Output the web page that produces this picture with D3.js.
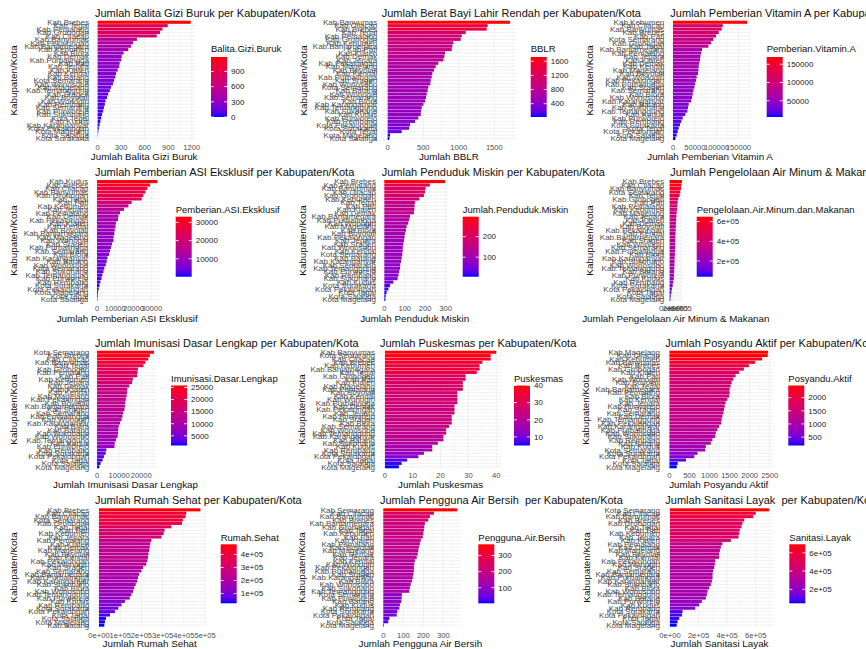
<!DOCTYPE html>
<html><head><meta charset="utf-8">
<script src="https://cdn.jsdelivr.net/npm/d3@7"></script>
<style>
body{margin:0;background:#fff}
svg{display:block;font-family:"Liberation Sans",Arial,Helvetica,sans-serif}
</style>
</head><body>
<svg id="c" width="866" height="649"></svg>
<script>
// ---------- DATA ----------
const n1 = "Kab.Brebes,Kab.Tegal,Kab.Pemalang,Kab.Grobogan,Kab.Cilacap,Kab.Banyumas,Kab.Pekalongan,Kab.Banjarnegara,Kab.Kebumen,Kab.Blora,Kab.Demak,Kab.Purbalingga,Kab.Pati,Kab.Jepara,Kab.Klaten,Kab.Kendal,Kab.Batang,Kota Semarang,Kab.Wonosobo,Kab.Magelang,Kab.Temanggung,Kab.Sragen,Kab.Boyolali,Kab.Wonogiri,Kab.Rembang,Kab.Semarang,Kab.Purworejo,Kab.Sukoharjo,Kota Tegal,Kab.Kudus,Kab.Karanganyar,Kota Pekalongan,Kota Magelang,Kota Salatiga,Kota Surakarta".split(",");
const v1 = [1185, 893, 826, 795, 752, 500, 450, 425, 390, 330, 306, 300, 280, 275, 255, 235, 225, 210, 195, 170, 155, 135, 120, 100, 92, 80, 70, 55, 45, 35, 25, 15, 8, 3, 0];

const n2 = "Kab.Banyumas,Kab.Cilacap,Kab.Brebes,Kab.Tegal,Kab.Pemalang,Kab.Grobogan,Kab.Kebumen,Kab.Banjarnegara,Kab.Pati,Kab.Klaten,Kab.Demak,Kab.Jepara,Kab.Pekalongan,Kab.Magelang,Kab.Boyolali,Kab.Kendal,Kab.Purbalingga,Kab.Sragen,Kab.Wonosobo,Kota Semarang,Kab.Batang,Kab.Wonogiri,Kab.Semarang,Kab.Blora,Kab.Karanganyar,Kab.Temanggung,Kab.Sukoharjo,Kab.Kudus,Kab.Purworejo,Kab.Rembang,Kota Pekalongan,Kota Surakarta,Kota Tegal,Kota Magelang,Kota Salatiga".split(",");
const v2 = [1720, 1406, 1392, 1097, 1041, 1027, 923, 909, 900, 806, 797, 783, 712, 675, 652, 628, 619, 605, 600, 572, 562, 548, 539, 525, 502, 478, 469, 464, 431, 384, 314, 300, 197, 33, 23];

const n3 = "Kab.Kebumen,Kab.Cilacap,Kab.Banyumas,Kab.Brebes,Kab.Pati,Kota Semarang,Kab.Grobogan,Kab.Tegal,Kab.Banjarnegara,Kab.Pemalang,Kab.Jepara,Kab.Klaten,Kab.Demak,Kab.Kendal,Kab.Magelang,Kab.Boyolali,Kab.Wonogiri,Kab.Pekalongan,Kab.Purbalingga,Kab.Sragen,Kab.Semarang,Kab.Blora,Kab.Wonosobo,Kab.Karanganyar,Kab.Batang,Kab.Sukoharjo,Kab.Temanggung,Kab.Kudus,Kab.Purworejo,Kab.Rembang,Kota Surakarta,Kota Tegal,Kota Pekalongan,Kota Salatiga,Kota Magelang".split(",");
const v3 = [169900, 114000, 111700, 104800, 98700, 92600, 87200, 81100, 66600, 64300, 62800, 62000, 60500, 58900, 58200, 57400, 54300, 52800, 50500, 49000, 46700, 45200, 43600, 41300, 36000, 34400, 32900, 28300, 22200, 19100, 16100, 13000, 10700, 8400, 5400];

const n4 = "Kab.Kudus,Kab.Brebes,Kab.Cilacap,Kab.Banyumas,Kab.Grobogan,Kab.Tegal,Kab.Pati,Kab.Kebumen,Kab.Jepara,Kab.Pemalang,Kab.Demak,Kab.Pekalongan,Kab.Klaten,Kab.Kendal,Kab.Boyolali,Kab.Banjarnegara,Kab.Magelang,Kab.Wonogiri,Kab.Sragen,Kab.Purbalingga,Kab.Semarang,Kab.Blora,Kab.Karanganyar,Kab.Batang,Kab.Wonosobo,Kota Semarang,Kab.Sukoharjo,Kab.Temanggung,Kab.Purworejo,Kab.Rembang,Kota Surakarta,Kota Pekalongan,Kota Magelang,Kota Tegal,Kota Salatiga".split(",");
const v4 = [33100, 29100, 27600, 26500, 25400, 24500, 19000, 17200, 14800, 12600, 11700, 11500, 10400, 10100, 9700, 9500, 9100, 9000, 8200, 7700, 7100, 6600, 5700, 5300, 4800, 4000, 3500, 2900, 2400, 1800, 1300, 900, 500, 400, 200];

const n5 = "Kab.Brebes,Kab.Pemalang,Kab.Banyumas,Kab.Cilacap,Kab.Grobogan,Kab.Kebumen,Kab.Tegal,Kab.Pati,Kab.Klaten,Kab.Demak,Kab.Banjarnegara,Kab.Purbalingga,Kab.Wonogiri,Kab.Magelang,Kab.Blora,Kab.Boyolali,Kab.Pekalongan,Kab.Jepara,Kab.Sragen,Kab.Wonosobo,Kab.Kendal,Kota Semarang,Kab.Batang,Kab.Karanganyar,Kab.Semarang,Kab.Temanggung,Kab.Purworejo,Kab.Rembang,Kab.Sukoharjo,Kab.Kudus,Kota Surakarta,Kota Pekalongan,Kota Tegal,Kota Salatiga,Kota Magelang".split(",");
const v5 = [297, 223, 202, 199, 194, 171, 150, 148, 147, 145, 126, 122, 117, 109, 106, 101, 99, 96, 93, 90, 90, 88, 85, 82, 78, 77, 73, 69, 65, 44, 28, 20, 11, 7, 5];

const n6 = "Kab.Brebes,Kab.Cilacap,Kab.Banyumas,Kota Semarang,Kab.Tegal,Kab.Grobogan,Kab.Pati,Kab.Pemalang,Kab.Kebumen,Kab.Magelang,Kab.Jepara,Kab.Klaten,Kab.Demak,Kab.Boyolali,Kab.Pekalongan,Kab.Kendal,Kab.Banjarnegara,Kab.Sragen,Kab.Wonogiri,Kab.Semarang,Kab.Purbalingga,Kab.Blora,Kab.Karanganyar,Kab.Sukoharjo,Kab.Wonosobo,Kab.Temanggung,Kab.Batang,Kab.Purworejo,Kab.Kudus,Kab.Rembang,Kota Surakarta,Kota Pekalongan,Kota Tegal,Kota Salatiga,Kota Magelang".split(",");
const v6 = [650000, 615000, 597000, 560000, 525000, 455000, 420000, 405000, 390000, 370000, 355000, 345000, 335000, 325000, 318000, 310000, 302000, 295000, 290000, 285000, 280000, 275000, 268000, 262000, 255000, 248000, 240000, 230000, 215000, 190000, 160000, 120000, 90000, 60000, 40000];

const n7 = "Kota Semarang,Kab.Brebes,Kab.Cilacap,Kab.Banyumas,Kab.Tegal,Kab.Grobogan,Kab.Pemalang,Kab.Pati,Kab.Kebumen,Kab.Jepara,Kab.Demak,Kab.Klaten,Kab.Kendal,Kab.Magelang,Kab.Pekalongan,Kab.Boyolali,Kab.Banjarnegara,Kab.Sragen,Kab.Semarang,Kab.Purbalingga,Kab.Wonogiri,Kab.Karanganyar,Kab.Blora,Kab.Batang,Kab.Sukoharjo,Kab.Wonosobo,Kab.Temanggung,Kab.Kudus,Kab.Purworejo,Kab.Rembang,Kota Surakarta,Kota Pekalongan,Kota Tegal,Kota Salatiga,Kota Magelang".split(",");
const v7 = [25800, 23900, 23200, 21800, 21000, 18500, 18300, 18100, 16200, 15900, 14500, 13700, 13600, 13400, 13000, 12700, 12600, 12400, 11800, 11500, 11100, 10400, 9800, 9600, 9500, 9300, 8600, 8000, 7900, 4200, 3900, 3100, 2500, 1600, 1000];

const n8 = "Kab.Banyumas,Kota Semarang,Kab.Cilacap,Kab.Brebes,Kab.Kebumen,Kab.Banjarnegara,Kab.Tegal,Kab.Grobogan,Kab.Pati,Kab.Klaten,Kab.Magelang,Kab.Pemalang,Kab.Boyolali,Kab.Kendal,Kab.Wonogiri,Kab.Purbalingga,Kab.Demak,Kab.Pekalongan,Kab.Jepara,Kab.Purworejo,Kab.Sragen,Kab.Blora,Kab.Semarang,Kab.Wonosobo,Kab.Temanggung,Kab.Karanganyar,Kab.Batang,Kab.Sukoharjo,Kab.Kudus,Kab.Rembang,Kota Surakarta,Kota Pekalongan,Kota Tegal,Kota Salatiga,Kota Magelang".split(",");
const v8 = [40, 38, 38, 35, 34, 34, 33, 29, 29, 28, 28, 28, 26, 26, 26, 26, 25, 25, 25, 24, 24, 24, 23, 22, 22, 21, 21, 19, 17, 17, 14, 12, 8, 6, 5];

const n9 = "Kab.Magelang,Kab.Cilacap,Kab.Kebumen,Kab.Banyumas,Kab.Brebes,Kab.Grobogan,Kab.Klaten,Kab.Pati,Kab.Wonogiri,Kab.Boyolali,Kab.Tegal,Kab.Banjarnegara,Kab.Pemalang,Kab.Blora,Kab.Kendal,Kab.Jepara,Kab.Purworejo,Kab.Sragen,Kab.Semarang,Kab.Demak,Kab.Temanggung,Kab.Pekalongan,Kab.Karanganyar,Kab.Purbalingga,Kab.Wonosobo,Kab.Sukoharjo,Kab.Rembang,Kab.Batang,Kab.Kudus,Kota Semarang,Kota Surakarta,Kota Pekalongan,Kota Tegal,Kota Salatiga,Kota Magelang".split(",");
const v9 = [2459, 2450, 2310, 2130, 1980, 1856, 1733, 1650, 1592, 1551, 1526, 1500, 1500, 1485, 1444, 1400, 1378, 1361, 1345, 1320, 1300, 1295, 1238, 1196, 1155, 1140, 1072, 1030, 907, 890, 700, 620, 412, 206, 182];

const n10 = "Kab.Brebes,Kab.Cilacap,Kab.Banyumas,Kota Semarang,Kab.Grobogan,Kab.Tegal,Kab.Pati,Kab.Kebumen,Kab.Jepara,Kab.Pemalang,Kab.Klaten,Kab.Demak,Kab.Magelang,Kab.Boyolali,Kab.Kendal,Kab.Pekalongan,Kab.Wonogiri,Kab.Sragen,Kab.Semarang,Kab.Banjarnegara,Kab.Purbalingga,Kab.Karanganyar,Kab.Sukoharjo,Kab.Blora,Kab.Wonosobo,Kab.Temanggung,Kab.Purworejo,Kab.Kudus,Kab.Rembang,Kota Surakarta,Kota Pekalongan,Kota Tegal,Kota Salatiga,Kota Magelang,Kab.Batang".split(",");
const v10 = [478000, 411000, 408000, 395000, 391000, 341000, 309000, 305000, 294000, 247000, 242000, 239000, 236000, 233000, 231000, 228000, 223000, 208000, 200000, 189000, 184000, 180000, 173000, 166000, 161000, 153000, 145000, 122000, 106000, 91000, 75000, 52000, 33000, 28000, 25000];

const n11 = "Kab.Semarang,Kab.Cilacap,Kab.Banyumas,Kab.Brebes,Kab.Banjarnegara,Kab.Grobogan,Kab.Tegal,Kab.Kebumen,Kab.Pati,Kab.Klaten,Kab.Pemalang,Kab.Boyolali,Kab.Magelang,Kab.Demak,Kab.Jepara,Kab.Kendal,Kab.Wonogiri,Kab.Pekalongan,Kab.Purbalingga,Kab.Sragen,Kab.Karanganyar,Kab.Blora,Kab.Wonosobo,Kab.Sukoharjo,Kab.Temanggung,Kota Semarang,Kab.Purworejo,Kab.Batang,Kab.Kudus,Kab.Rembang,Kota Surakarta,Kota Pekalongan,Kota Tegal,Kota Salatiga,Kota Magelang".split(",");
const v11 = [370, 253, 233, 225, 208, 205, 203, 200, 197, 187, 183, 178, 175, 172, 167, 158, 155, 153, 153, 150, 147, 143, 137, 133, 130, 93, 92, 90, 83, 80, 70, 67, 30, 25, 3];

const n12 = "Kota Semarang,Kab.Cilacap,Kab.Banyumas,Kab.Brebes,Kab.Grobogan,Kab.Tegal,Kab.Pati,Kab.Kebumen,Kab.Jepara,Kab.Klaten,Kab.Pemalang,Kab.Demak,Kab.Magelang,Kab.Boyolali,Kab.Kendal,Kab.Pekalongan,Kab.Wonogiri,Kab.Sragen,Kab.Semarang,Kab.Banjarnegara,Kab.Purbalingga,Kab.Karanganyar,Kab.Sukoharjo,Kab.Blora,Kab.Wonosobo,Kab.Temanggung,Kab.Batang,Kab.Purworejo,Kab.Kudus,Kab.Rembang,Kota Surakarta,Kota Pekalongan,Kota Tegal,Kota Salatiga,Kota Magelang".split(",");
const v12 = [693000, 600000, 581000, 519000, 507000, 500000, 488000, 484000, 479000, 426000, 367000, 356000, 349000, 344000, 344000, 316000, 314000, 309000, 302000, 298000, 298000, 293000, 286000, 274000, 263000, 258000, 251000, 223000, 205000, 177000, 88000, 84000, 65000, 53000, 47000];

const titles = [
  "Jumlah Balita Gizi Buruk per Kabupaten/Kota",
  "Jumlah Berat Bayi Lahir Rendah per Kabupaten/Kota",
  "Jumlah Pemberian Vitamin A per Kabupaten/Kota",
  "Jumlah Pemberian ASI Eksklusif per Kabupaten/Kota",
  "Jumlah Penduduk Miskin per Kabupaten/Kota",
  "Jumlah Pengelolaan Air Minum & Makanan per Kabupaten/Kota",
  "Jumlah Imunisasi Dasar Lengkap per Kabupaten/Kota",
  "Jumlah Puskesmas per Kabupaten/Kota",
  "Jumlah Posyandu Aktif per Kabupaten/Kota",
  "Jumlah Rumah Sehat per Kabupaten/Kota",
  "Jumlah Pengguna Air Bersih  per Kabupaten/Kota",
  "Jumlah Sanitasi Layak  per Kabupaten/Kota"
];
const xTitles = [
  "Jumlah Balita Gizi Buruk", "Jumlah BBLR", "Jumlah Pemberian Vitamin A",
  "Jumlah Pemberian ASI Eksklusif", "Jumlah Penduduk Miskin", "Jumlah Pengelolaan Air Minum & Makanan",
  "Jumlah Imunisasi Dasar Lengkap", "Jumlah Puskesmas", "Jumlah Posyandu Aktif",
  "Jumlah Rumah Sehat", "Jumlah Pengguna Air Bersih", "Jumlah Sanitasi Layak"
];
const legendTitles = [
  "Balita.Gizi.Buruk", "BBLR", "Pemberian.Vitamin.A",
  "Pemberian.ASI.Eksklusif", "Jumlah.Penduduk.Miskin", "Pengelolaan.Air.Minum.dan.Makanan",
  "Imunisasi.Dasar.Lengkap", "Puskesmas", "Posyandu.Aktif",
  "Rumah.Sehat", "Pengguna.Air.Bersih", "Sanitasi.Layak"
];
const yTitle = "Kabupaten/Kota";
const xTicks = [
  [0, 300, 600, 900, 1200], [0, 500, 1000, 1500], [0, 50000, 100000, 150000],
  [0, 10000, 20000, 30000], [0, 100, 200, 300], [0, 200000, 400000, 600000],
  [0, 10000, 20000], [0, 10, 20, 30, 40], [0, 500, 1000, 1500, 2000, 2500],
  [0, 100000, 200000, 300000, 400000, 500000], [0, 100, 200, 300], [0, 200000, 400000, 600000]
];
const legendTicks = [
  [0, 300, 600, 900], [400, 800, 1200, 1600], [50000, 100000, 150000],
  [10000, 20000, 30000], [100, 200], [200000, 400000, 600000],
  [5000, 10000, 15000, 20000, 25000], [10, 20, 30, 40], [500, 1000, 1500, 2000],
  [100000, 200000, 300000, 400000], [100, 200, 300], [200000, 400000, 600000]
];
const scientific = [false, false, false, false, false, true, false, false, false, true, false, true];

const names = [n1, n2, n3, n4, n5, n6, n7, n8, n9, n10, n11, n12];
const values = [v1, v2, v3, v4, v5, v6, v7, v8, v9, v10, v11, v12];

// ---------- LAYOUT ----------
const rows = [
  {ty: 17, pt: 20.2, pb: 140.5, tky: 149.5, xty: 159.5, gty: 52.3, cbt: 57, cbb: 117},
  {ty: 176, pt: 179.5, pb: 301.5, tky: 311, xty: 321.8, gty: 212.6, cbt: 216.7, cbb: 276.7},
  {ty: 347, pt: 350.2, pb: 468.8, tky: 478.3, xty: 487.5, gty: 381.6, cbt: 385.5, cbb: 445.5},
  {ty: 504.4, pt: 507.8, pb: 627.2, tky: 638.3, xty: 646.8, gty: 540.6, cbt: 544.3, cbb: 603.3}
];
const cols = [
  {pl: 93, pr: 195.3, lx: 89, ytx: 13.3, tx: 95, gx: 211},
  {pl: 381.6, pr: 516.1, lx: 377.3, ytx: 303, tx: 381.7, gx: 530.7},
  {pl: 669.3, pr: 750.8, lx: 664.3, ytx: 589.3, tx: 670.3, gx: 766.7},
  {pl: 94, pr: 160.4, lx: 88.3, ytx: 13.3, tx: 95, gx: 175.7},
  {pl: 381.3, pr: 448, lx: 376, ytx: 302.7, tx: 381.7, gx: 462.7},
  {pl: 669, pr: 682.6, lx: 664.3, ytx: 589.3, tx: 670.3, gx: 696.7},
  {pl: 94.2, pr: 156.9, lx: 89.3, ytx: 13.3, tx: 95, gx: 171},
  {pl: 379.4, pr: 501.8, lx: 375, ytx: 301.7, tx: 380, gx: 514},
  {pl: 664.5, pr: 773, lx: 660, ytx: 585.3, tx: 665.3, gx: 788.3},
  {pl: 93.9, pr: 205.5, lx: 89.3, ytx: 13.3, tx: 95, gx: 220.7},
  {pl: 379.6, pr: 461, lx: 374, ytx: 301.7, tx: 380, gx: 478.3},
  {pl: 665, pr: 774, lx: 660, ytx: 586, tx: 665.3, gx: 789.3}
];

function sciFmt(v) {
  if (v === 0) return "0e+00";
  const e = Math.floor(Math.log10(Math.abs(v)));
  const m = v / Math.pow(10, e);
  return m.toFixed(0) + "e+" + String(e).padStart(2, "0");
}

const svg = d3.select("#c");
const defs = svg.append("defs");
const FONT_T = 11, FONT_AX = 9.8, FONT_YL = 8, FONT_TK = 7.6, FONT_LT = 9.5, FONT_LL = 8;
const GRID = "#ebebeb";

names.forEach((nm, i) => {
  const R = rows[Math.floor(i / 3)], C = cols[i], vals = values[i];
  const L = Object.assign({}, R, C);
  const g = svg.append("g");
  const vmax = d3.max(vals), vmin = d3.min(vals);
  const lo = Math.min(0, vmin), hi = vmax;
  const pad = (hi - lo) * 0.05;
  const x = d3.scaleLinear().domain([lo - pad, hi + pad]).range([L.pl, L.pr]);
  const y = d3.scaleBand().domain(nm).range([L.pt, L.pb]).paddingInner(0.1).paddingOuter(0.15);
  const col = d3.scaleLinear().domain([vmin, vmax]).range(["blue", "red"]).interpolate(d3.interpolateLab);
  const fmt = scientific[i] ? sciFmt : (v => String(v));

  // minor vertical grid
  const tk = xTicks[i];
  const minors = [];
  for (let k = 0; k < tk.length - 1; k++) minors.push((tk[k] + tk[k + 1]) / 2);
  const st = tk[1] - tk[0];
  if (tk[tk.length - 1] + st / 2 <= hi + pad) minors.push(tk[tk.length - 1] + st / 2);
  g.selectAll(".mn").data(minors).enter().append("line")
    .attr("x1", d => x(d)).attr("x2", d => x(d)).attr("y1", L.pt).attr("y2", L.pb)
    .attr("stroke", GRID).attr("stroke-width", 0.35);
  // major vertical grid
  g.selectAll(".mj").data(tk).enter().append("line")
    .attr("x1", d => x(d)).attr("x2", d => x(d)).attr("y1", L.pt).attr("y2", L.pb)
    .attr("stroke", GRID).attr("stroke-width", 0.7);
  // horizontal grid
  g.selectAll(".hg").data(nm).enter().append("line")
    .attr("x1", L.pl).attr("x2", L.pr)
    .attr("y1", d => y(d) + y.bandwidth() / 2).attr("y2", d => y(d) + y.bandwidth() / 2)
    .attr("stroke", GRID).attr("stroke-width", 0.7);

  // bars
  g.selectAll(".bar").data(nm.map((n, k) => ({n, v: vals[k]}))).enter().append("rect")
    .attr("x", d => Math.min(x(0), x(d.v)))
    .attr("width", d => Math.abs(x(d.v) - x(0)))
    .attr("y", d => y(d.n)).attr("height", y.bandwidth())
    .attr("fill", d => col(d.v));

  // y labels
  g.selectAll(".yl").data(nm).enter().append("text")
    .attr("x", L.lx).attr("y", d => y(d) + y.bandwidth() / 2).attr("dy", "0.35em")
    .attr("text-anchor", "end").attr("font-size", FONT_YL).attr("fill", "#4d4d4d")
    .text(d => d);

  // x tick labels
  g.selectAll(".xt").data(tk).enter().append("text")
    .attr("x", d => x(d)).attr("y", L.tky)
    .attr("text-anchor", "middle").attr("font-size", FONT_TK).attr("fill", "#4d4d4d")
    .text(d => fmt(d));

  // axis titles
  g.append("text").attr("x", (L.pl + L.pr) / 2).attr("y", L.xty)
    .attr("text-anchor", "middle").attr("font-size", FONT_AX).attr("fill", "#111")
    .text(xTitles[i]);
  const cy = (L.pt + L.pb) / 2;
  g.append("text").attr("transform", `translate(${L.ytx + 3.5},${cy}) rotate(-90)`)
    .attr("text-anchor", "middle").attr("font-size", FONT_AX).attr("fill", "#111")
    .text(yTitle);

  // plot title
  g.append("text").attr("x", L.tx).attr("y", L.ty)
    .attr("font-size", FONT_T).attr("fill", "#111").style("white-space", "pre")
    .text(titles[i]);

  // legend
  const gid = "grad" + i;
  const grad = defs.append("linearGradient").attr("id", gid)
    .attr("x1", 0).attr("y1", 1).attr("x2", 0).attr("y2", 0);
  d3.range(0, 21).forEach(s => {
    const t = s / 20;
    grad.append("stop").attr("offset", t).attr("stop-color", col(vmin + t * (vmax - vmin)));
  });
  const cw = 16;
  g.append("rect").attr("x", L.gx).attr("y", L.cbt).attr("width", cw).attr("height", L.cbb - L.cbt)
    .attr("fill", `url(#${gid})`);
  const ly = d3.scaleLinear().domain([vmin, vmax]).range([L.cbb, L.cbt]);
  const lt = legendTicks[i];
  g.selectAll(".lt1").data(lt).enter().append("line")
    .attr("x1", L.gx).attr("x2", L.gx + 3).attr("y1", d => ly(d)).attr("y2", d => ly(d))
    .attr("stroke", "#fff").attr("stroke-width", 0.8);
  g.selectAll(".lt2").data(lt).enter().append("line")
    .attr("x1", L.gx + cw - 3).attr("x2", L.gx + cw).attr("y1", d => ly(d)).attr("y2", d => ly(d))
    .attr("stroke", "#fff").attr("stroke-width", 0.8);
  g.selectAll(".ll").data(lt).enter().append("text")
    .attr("x", L.gx + cw + 4).attr("y", d => ly(d)).attr("dy", "0.35em")
    .attr("font-size", FONT_LL).attr("fill", "#222")
    .text(d => fmt(d));
  g.append("text").attr("x", L.gx).attr("y", L.gty)
    .attr("font-size", FONT_LT).attr("fill", "#111")
    .text(legendTitles[i]);
});
</script>
</body></html>
